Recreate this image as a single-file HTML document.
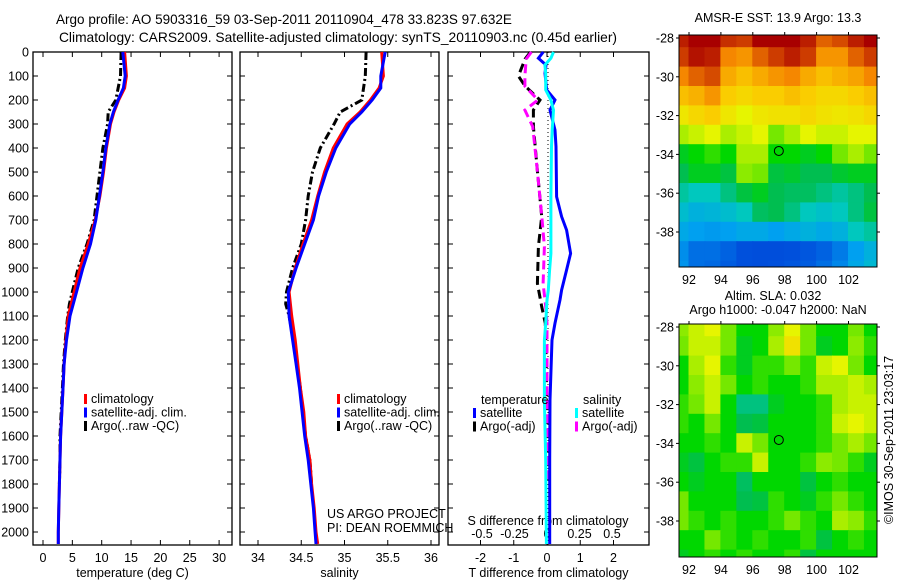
<!DOCTYPE html>
<html><head><meta charset="utf-8">
<style>
html,body{margin:0;padding:0;background:#fff;}
svg{display:block;font-family:"Liberation Sans",sans-serif;}
text{font-size:12.5px;fill:#000;}
</style></head>
<body>
<svg id="fig" width="900" height="580" viewBox="0 0 900 580" xmlns="http://www.w3.org/2000/svg">
<text x="284" y="24" text-anchor="middle" style="font-size:13.5px">Argo profile: AO 5903316_59 03-Sep-2011 20110904_478 33.823S 97.632E</text>
<text x="338" y="42" text-anchor="middle" style="font-size:13.8px">Climatology: CARS2009. Satellite-adjusted climatology: synTS_20110903.nc (0.45d earlier)</text>
<g id="plots"></g>
</svg>
<script>
// ---------- profile data ----------
const tDepth = [0,100,150,200,250,300,400,500,600,700,800,900,1000,1100,1200,1300,1400,1500,1600,1700,1800,1900,2000,2050];
const tClim  = [13.9,14.2,13.9,12.9,12.1,11.5,10.8,10.3,9.7,8.9,7.7,6.3,5.3,4.3,3.9,3.6,3.4,3.2,3.0,2.9,2.8,2.7,2.6,2.6];
const tSat   = [13.6,14.0,13.7,12.8,12.0,11.4,10.7,10.2,9.6,9.0,8.1,6.8,5.7,4.6,4.0,3.6,3.4,3.2,3.0,2.9,2.8,2.7,2.6,2.6];
const argoDepth = [0,100,200,250,300,400,500,600,700,800,900,1000,1050,1100,1200,1300,1400,1500,1600,1700,1800];
const tArgo  = [13.3,13.2,12.4,11.1,11.0,10.2,9.7,9.2,8.7,7.5,6.0,5.0,4.5,4.2,3.8,3.5,3.3,3.1,2.9,2.9,2.8];
const sClim  = [35.43,35.45,35.4,35.3,35.18,35.03,34.87,34.77,34.69,34.62,34.52,34.43,34.36,34.39,34.43,34.46,34.49,34.53,34.55,34.6,34.62,34.65,34.67,34.69];
const sSat   = [35.47,35.42,35.42,35.32,35.2,35.06,34.9,34.79,34.7,34.64,34.54,34.44,34.35,34.36,34.4,34.44,34.48,34.51,34.54,34.58,34.61,34.64,34.66,34.67];
const sArgo  = [35.25,35.24,35.2,34.95,34.88,34.72,34.63,34.58,34.55,34.5,34.4,34.33,34.32,34.36,34.41,34.45,34.49,34.52,34.55,34.6,34.62];
// differences
const dDepth = [0,26,54,89,158,200,242,325,394,603,686,742,839,908,992,1033,1130,1200,1450,1700,2050];
const dTSat  = [-0.11,-0.26,-0.03,-0.06,-0.01,0.24,0.09,0.24,0.27,0.29,0.44,0.59,0.71,0.59,0.44,0.39,0.24,0.15,0.09,0.08,0.08];
const dSSat  = [0.05,0.03,-0.016,-0.01,-0.01,0.03,0.05,0.04,0.035,0.03,0.03,0.03,0.03,0.02,0.01,0.0,-0.01,-0.02,-0.02,-0.01,-0.005];
const aDepth = [0,29,100,142,200,242,311,464,686,811,964,1061,1130,1300,1500,1800];
const dTArgo = [-0.5,-0.66,-0.86,-0.66,-0.21,-0.41,-0.41,-0.31,-0.16,-0.26,-0.29,-0.16,-0.05,-0.02,0.0,0.0];
const dSArgo = [-0.12,-0.16,-0.17,-0.17,-0.07,-0.17,-0.11,-0.08,-0.04,-0.02,-0.03,-0.01,0.0,0.0,0.0,0.0];
const depthTicks = [0,100,200,300,400,500,600,700,800,900,1000,1100,1200,1300,1400,1500,1600,1700,1800,1900,2000];
const tTicks = [0,5,10,15,20,25,30];
const sTicks = [34,34.5,35,35.5,36];
const sTickLabels = ["34","34.5","35","35.5","36"];
const dtTicks = [-2,-1,0,1,2];
const dsTicks = [-0.5,-0.25,0,0.25,0.5];
const dsTickLabels = ["-0.5","-0.25","0","0.25","0.5"];
// ---------- map data ----------
const lons = [91.5,92.5,93.5,94.5,95.5,96.5,97.5,98.5,99.5,100.5,101.5,102.5,103.5];
const lats = [-28,-29,-30,-31,-32,-33,-34,-35,-36,-37,-38,-39,-40];
const sstGrid = [
[0.95,1,1,0.92,0.9,1,1,1,0.95,0.85,0.88,0.95,1],
[0.9,0.97,0.95,0.8,0.78,0.85,0.9,0.95,0.9,0.78,0.78,0.85,0.9],
[0.8,0.85,0.88,0.75,0.72,0.75,0.78,0.8,0.75,0.72,0.74,0.76,0.8],
[0.72,0.74,0.78,0.7,0.68,0.7,0.7,0.72,0.7,0.68,0.68,0.7,0.72],
[0.65,0.68,0.7,0.65,0.62,0.65,0.66,0.66,0.68,0.66,0.65,0.66,0.68],
[0.58,0.6,0.62,0.58,0.6,0.62,0.55,0.58,0.62,0.6,0.6,0.62,0.62],
[0.48,0.5,0.52,0.5,0.58,0.58,0.5,0.5,0.48,0.5,0.55,0.58,0.55],
[0.45,0.48,0.48,0.46,0.56,0.55,0.46,0.47,0.45,0.45,0.47,0.48,0.48],
[0.4,0.38,0.38,0.42,0.46,0.48,0.45,0.44,0.44,0.42,0.4,0.42,0.45],
[0.35,0.32,0.33,0.35,0.38,0.44,0.45,0.42,0.38,0.36,0.38,0.42,0.46],
[0.3,0.28,0.27,0.28,0.3,0.3,0.28,0.3,0.32,0.3,0.32,0.38,0.4],
[0.25,0.2,0.2,0.18,0.15,0.14,0.14,0.15,0.16,0.18,0.22,0.28,0.32],
[0.26,0.2,0.19,0.17,0.15,0.14,0.15,0.16,0.17,0.2,0.24,0.3,0.34]];
const slaGrid = [
[0.56,0.6,0.62,0.55,0.5,0.5,0.56,0.62,0.55,0.5,0.5,0.55,0.5],
[0.55,0.6,0.6,0.55,0.48,0.5,0.58,0.66,0.55,0.48,0.5,0.56,0.52],
[0.5,0.58,0.62,0.52,0.48,0.52,0.52,0.55,0.52,0.6,0.62,0.55,0.5],
[0.5,0.56,0.6,0.55,0.5,0.52,0.5,0.5,0.52,0.58,0.58,0.6,0.58],
[0.52,0.55,0.6,0.5,0.42,0.42,0.48,0.5,0.5,0.52,0.58,0.6,0.6],
[0.52,0.5,0.55,0.5,0.45,0.46,0.5,0.5,0.5,0.52,0.6,0.62,0.6],
[0.5,0.5,0.52,0.5,0.6,0.55,0.5,0.5,0.5,0.52,0.55,0.58,0.55],
[0.48,0.46,0.5,0.52,0.52,0.6,0.5,0.5,0.52,0.56,0.55,0.52,0.48],
[0.5,0.48,0.5,0.5,0.44,0.5,0.5,0.5,0.46,0.5,0.52,0.5,0.5],
[0.55,0.5,0.5,0.5,0.45,0.46,0.52,0.5,0.48,0.52,0.55,0.52,0.5],
[0.55,0.52,0.5,0.52,0.5,0.5,0.52,0.55,0.52,0.5,0.58,0.56,0.52],
[0.5,0.5,0.55,0.52,0.5,0.52,0.5,0.5,0.52,0.46,0.5,0.52,0.5],
[0.48,0.5,0.52,0.5,0.52,0.5,0.5,0.52,0.46,0.5,0.5,0.5,0.5]];
const argoLon = [97.632];
const argoLat = [-33.823];
const lonTicks = [92,94,96,98,100,102];
const latTicks = [-28,-30,-32,-34,-36,-38];

const NS='http://www.w3.org/2000/svg';
const root=document.getElementById('plots');
function mk(tag,attrs,parent){const e=document.createElementNS(NS,tag);for(const k in attrs)e.setAttribute(k,attrs[k]);(parent||root).appendChild(e);return e;}
function txt(s,x,y,anchor,parent,size){const e=mk('text',{x:x,y:y,'text-anchor':anchor||'start'},parent);if(size)e.style.fontSize=size+'px';e.textContent=s;return e;}

const PT=52, PB=545;
const yD=d=>PT+d*0.24;
function panel(name,x0,x1,xf,xticks,xlabels,xtitle,showDepth){
  const g=mk('g',{});
  
  
  const r=mk('rect',{x:x0,y:PT,width:x1-x0,height:PB-PT,fill:'none',stroke:'#000','stroke-width':1.3},g);
  
  
  depthTicks.forEach(d=>{
    const y=yD(d);
    mk('line',{x1:x0,x2:x0+5,y1:y,y2:y,stroke:'#000'},g);
    mk('line',{x1:x1-5,x2:x1,y1:y,y2:y,stroke:'#000'},g);
    if(showDepth){const t=txt(String(d),x0-4,y+4.5,'end',g);}
  });
  xticks.forEach((v,i)=>{
    const x=xf(v);
    mk('line',{x1:x,x2:x,y1:PT,y2:PT+5,stroke:'#000'},g);
    mk('line',{x1:x,x2:x,y1:PB-5,y2:PB,stroke:'#000'},g);
    if(xlabels){const t=txt(xlabels[i],x,PB+17,'middle',g);}
  });
  if(xtitle){const t=txt(xtitle,(x0+x1)/2,PB+32,'middle',g);}
  return g;
}
function line(g,name,xs,ds,xf,color,dash,w){
  const p=xs.map((v,i)=>(i?'L':'M')+xf(v).toFixed(1)+','+yD(ds[i]).toFixed(1)).join('');
  const e=mk('path',{d:p,fill:'none',stroke:color,'stroke-width':w||3,'stroke-dasharray':dash||'none'},g);
  
  
}
function legend(g,x,y,items){
  items.forEach((it,i)=>{
    const m=mk('rect',{x:x,y:y+i*13.5-9,width:3,height:10,fill:it[1]},g);
    
    
    const t=txt(it[0],x+7,y+i*13.5,'start',g);
    
    
  });
}
// Temperature panel
const xT=v=>43+v*5.87;
const g1=panel('temperature-panel',33,232,xT,tTicks,tTicks.map(String),'temperature (deg C)',true);
line(g1,'temp-argo-line',tArgo,argoDepth,xT,'#000','8,3,2,3',3);
line(g1,'temp-climatology-line',tClim,tDepth,xT,'#ff0000',null,3);
line(g1,'temp-satellite-line',tSat,tDepth,xT,'#0000ff',null,3);
legend(g1,84,403,[['climatology','#ff0000'],['satellite-adj. clim.','#0000ff'],['Argo(..raw -QC)','#000']]);
// Salinity panel
const xS=v=>258+(v-34)*86.5;
const g2=panel('salinity-panel',240,439,xS,sTicks,sTickLabels,'salinity',false);
line(g2,'sal-argo-line',sArgo,argoDepth,xS,'#000','8,3,2,3',3);
line(g2,'sal-climatology-line',sClim,tDepth,xS,'#ff0000',null,3);
line(g2,'sal-satellite-line',sSat,tDepth,xS,'#0000ff',null,3);
legend(g2,337,403,[['climatology','#ff0000'],['satellite-adj. clim.','#0000ff'],['Argo(..raw -QC)','#000']]);
let t=txt('US ARGO PROJECT',327,518,'start',g2);
t=txt('PI: DEAN ROEMMICH',327,532,'start',g2);
// Difference panel
const xDT=v=>547+v*33.25;
const xDS=v=>547+v*130;
const g3=panel('difference-panel',448,649,xDT,dtTicks,dtTicks.map(String),'T difference from climatology',false);
const z=mk('line',{x1:548,x2:548,y1:PT,y2:PB,stroke:'#000','stroke-dasharray':'1,3','stroke-width':1},g3);

dsTicks.forEach((v,i)=>{const tt=txt(dsTickLabels[i],xDS(v),538,'middle',g3);});
t=txt('S difference from climatology',548,525,'middle',g3);
line(g3,'temp-argo-diff-line',dTArgo,aDepth,xDT,'#000','9,5',3);
line(g3,'sal-argo-diff-line',dSArgo,aDepth,xDS,'#ff00ff','9,5',3);
line(g3,'temp-satellite-diff-line',dTSat,dDepth,xDT,'#0000ff',null,3);
line(g3,'sal-satellite-diff-line',dSSat,dDepth,xDS,'#00ffff',null,3);
t=txt('temperature',481,404,'start',g3);
legend(g3,473,417,[['satellite','#0000ff'],['Argo(-adj)','#000']]);
t=txt('salinity',583,404,'start',g3);
legend(g3,575,417,[['satellite','#00ffff'],['Argo(-adj)','#ff00ff']]);

// ---------- maps ----------
const stops=[[0,[0,50,200]],[0.15,[0,80,220]],[0.28,[0,160,240]],[0.38,[0,200,190]],[0.45,[0,190,80]],[0.5,[0,215,0]],[0.56,[140,235,0]],[0.62,[230,245,0]],[0.7,[250,205,0]],[0.8,[245,135,0]],[0.9,[205,60,0]],[1,[168,0,0]]];
function cmap(v){
  for(let i=1;i<stops.length;i++){if(v<=stops[i][0]){const a=stops[i-1],b=stops[i],f=(v-a[0])/(b[0]-a[0]);return 'rgb('+a[1].map((c,k)=>Math.round(c+(b[1][k]-c)*f)).join(',')+')';}}
  return 'rgb(168,0,0)';
}
function map(name,top,bot,grid){
  const L=679,R=877;
  const xf=lo=>689+(lo-92)*15.95;
  const yf=la=>top+3+(-28-la)*19.4;
  const g=mk('g',{});
  
  
  const cp=mk('clipPath',{id:name+'-clip'},g);
  mk('rect',{x:L,y:top,width:R-L,height:bot-top},cp);
  const cg=mk('g',{'clip-path':'url(#'+name+'-clip)'},g);
  grid.forEach((row,j)=>row.forEach((v,i)=>{
    const x0=xf(lons[i]-0.5)-0.5,y0=yf(lats[j]+0.5)-0.5;
    const c=mk('rect',{x:x0,y:y0,width:16.95,height:20.4,fill:cmap(v)},cg);
    
    
  }));
  const fr=mk('rect',{x:L,y:top,width:R-L,height:bot-top,fill:'none',stroke:'#000','stroke-width':1},g);
  
  lonTicks.forEach(lo=>{const x=xf(lo);mk('line',{x1:x,x2:x,y1:top,y2:top-3,stroke:'#000'},g);
    const tt=txt(String(lo),x,bot+17,'middle',g);});
  latTicks.forEach(la=>{const y=yf(la);mk('line',{x1:L,x2:L-3,y1:y,y2:y,stroke:'#000'},g);mk('line',{x1:R,x2:R+3,y1:y,y2:y,stroke:'#000'},g);
    const tt=txt(String(la),L-5,y+4.5,'end',g);});
  argoLon.forEach((lo,i)=>{const c=mk('circle',{cx:xf(lo),cy:yf(argoLat[i]),r:4.5,fill:'none',stroke:'#000','stroke-width':1},g);
    });
}
map('sst-map',35,267,sstGrid);
map('sla-map',324,557,slaGrid);
t=txt('AMSR-E SST: 13.9 Argo: 13.3',778,22,'middle');
t=txt('Altim. SLA: 0.032',773,300,'middle');
t=txt('Argo h1000: -0.047 h2000: NaN',778,314,'middle');
t=txt('©IMOS 30-Sep-2011 23:03:17',0,0,'middle');t.setAttribute('transform','translate(893,440) rotate(-90)');

</script>
</body></html>
